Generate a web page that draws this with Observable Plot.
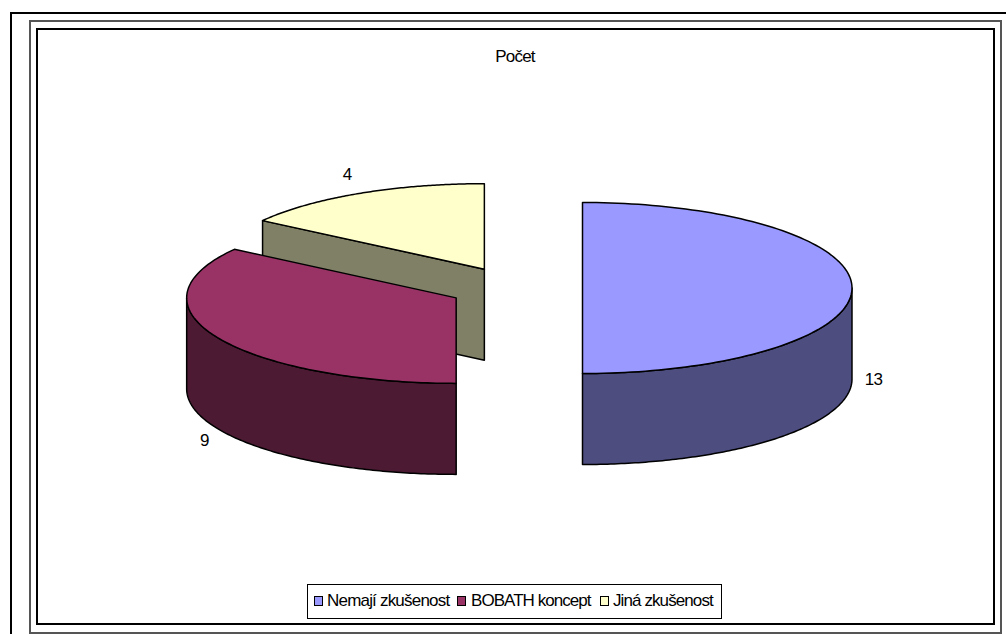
<!DOCTYPE html>
<html>
<head>
<meta charset="utf-8">
<script src="https://cdn.jsdelivr.net/npm/d3@7"></script>
<script src="https://cdn.jsdelivr.net/npm/@observablehq/plot@0.6"></script>
<style>
  html, body { margin: 0; padding: 0; background: #fff; }
  #chart { position: relative; width: 1006px; height: 634px; overflow: hidden; font-family: "Liberation Sans", Arial, sans-serif; color: #000; }
  #chart svg { position: absolute; left: 0; top: 0; }
  #chart svg text { letter-spacing: -0.7px; }
  .box { position: absolute; box-sizing: border-box; }
  .title { position: absolute; left: 415px; width: 200px; top: 47px; text-align: center; font-size: 17px; letter-spacing: -0.75px; }
  .legend { position: absolute; left: 307px; top: 584px; width: 415px; height: 35px; box-sizing: border-box; border: 1px solid #000; background: #fff; }
  .swatch { position: absolute; top: 11px; width: 7px; height: 8px; border: 1px solid #000; }
  .entry { position: absolute; top: 6px; font-size: 17px; white-space: nowrap; }
</style>
</head>
<body>
<div id="chart"></div>
<script>
// Survey answers shown as an exploded 3D pie
const categories = ["Nemají zkušenost", "BOBATH koncept", "Jiná zkušenost"];
const counts = [13, 9, 4];
const topColors = ["#9999ff", "#993366", "#ffffcc"];
const sideColors = ["#4d4d80", "#4d1a33", "#808066"];
const labelNudge = [[0, 0.5], [6, 9], [-2, -13]];

// Projection of the tilted disc, in pixels per unit radius
const rx = 269.5, ry = 85.5, depth = 91 / ry, explode = 67 / rx;
const cx = 515, cy = 287.5, W = 1006, H = 634;

const total = d3.sum(counts);
const cumulative = d3.cumsum(counts);
const slices = counts.map((value, i) => {
  const a1 = (cumulative[i] - value) / total * 2 * Math.PI;
  const a2 = cumulative[i] / total * 2 * Math.PI;
  const mid = (a1 + a2) / 2;
  return {i, value, a1, a2, mid, ox: Math.sin(mid) * explode, oy: Math.cos(mid) * explode};
});

const rim = (s, a) => ({x: s.ox + Math.sin(a), y: s.oy + Math.cos(a)});
const arc = (s, from, to) => d3.range(121).map(k => rim(s, from + (to - from) * k / 120));
const lowered = pts => pts.map(p => ({x: p.x, y: p.y - depth}));
const closed = pts => [...pts, pts[0]];

// Curved outer wall, limited to the front half of the disc
function wall(s) {
  const lo = Math.max(s.a1, Math.PI / 2);
  const hi = Math.min(s.a2, 3 * Math.PI / 2);
  if (lo >= hi) return null;
  const edge = arc(s, lo, hi);
  return closed([...edge, ...lowered(edge).reverse()]);
}
// Straight cut wall facing the viewer
function cut(s, a) {
  const apex = {x: s.ox, y: s.oy};
  const end = rim(s, a);
  return closed([apex, end, {x: end.x, y: end.y - depth}, {x: apex.x, y: apex.y - depth}]);
}
const upper = s => closed([{x: s.ox, y: s.oy}, ...arc(s, s.a1, s.a2)]);

const [blue, wine, cream] = slices;
const face = (points, fill) => Plot.line(points, {x: "x", y: "y", fill, stroke: "#000", strokeWidth: 1.5, strokeLinejoin: "round"});

const labels = slices.map(s => {
  const below = Math.cos(s.mid) < 0.01 ? depth : 0;
  return {
    x: s.ox + Math.sin(s.mid) * 1.08,
    y: s.oy + Math.cos(s.mid) * 1.08 - below,
    text: String(s.value),
    dx: labelNudge[s.i][0],
    dy: labelNudge[s.i][1]
  };
});

const plot = Plot.plot({
  width: W,
  height: H,
  margin: 0,
  x: {domain: [-cx / rx, (W - cx) / rx], range: [0, W], axis: null},
  y: {domain: [cy / ry, (cy - H) / ry], range: [0, H], axis: null},
  style: {background: "transparent", overflow: "visible"},
  marks: [
    face(cut(cream, cream.a1), sideColors[2]),
    face(upper(cream), topColors[2]),
    face(wall(wine), sideColors[1]),
    face(upper(wine), topColors[1]),
    face(wall(blue), sideColors[0]),
    face(upper(blue), topColors[0]),
    ...labels.map(l => Plot.text([l], {
      x: "x", y: "y", text: "text", dx: l.dx, dy: l.dy,
      fontSize: 17, fontFamily: "Liberation Sans, Arial, sans-serif", fill: "#000"
    }))
  ]
});

const chart = document.getElementById("chart");

// Nested chart-area borders
[
  {l: 10, t: 12, r: 1030, b: 660, c: "#000", w: 2},
  {l: 29, t: 20, r: 1002, b: 634, c: "#555", w: 2},
  {l: 36, t: 28, r: 995, b: 625, c: "#000", w: 2}
].forEach(f => {
  const d = document.createElement("div");
  d.className = "box";
  d.style.cssText = `left:${f.l}px;top:${f.t}px;width:${f.r - f.l}px;height:${f.b - f.t}px;border:${f.w}px solid ${f.c};`;
  chart.appendChild(d);
});

chart.appendChild(plot);

const title = document.createElement("div");
title.className = "title";
title.textContent = "Počet";
chart.appendChild(title);

// Legend row with its boxed background
const legend = document.createElement("div");
legend.className = "legend";
const swatchLeft = [6, 149, 292];
const textLeft = [19, 163, 305];
const textSpacing = [-0.8, -0.95, -0.9];
categories.forEach((name, i) => {
  const sw = document.createElement("div");
  sw.className = "swatch";
  sw.style.left = swatchLeft[i] + "px";
  sw.style.background = topColors[i];
  const tx = document.createElement("div");
  tx.className = "entry";
  tx.style.left = textLeft[i] + "px";
  tx.style.letterSpacing = textSpacing[i] + "px";
  tx.textContent = name;
  legend.append(sw, tx);
});
chart.appendChild(legend);
</script>
</body>
</html>
